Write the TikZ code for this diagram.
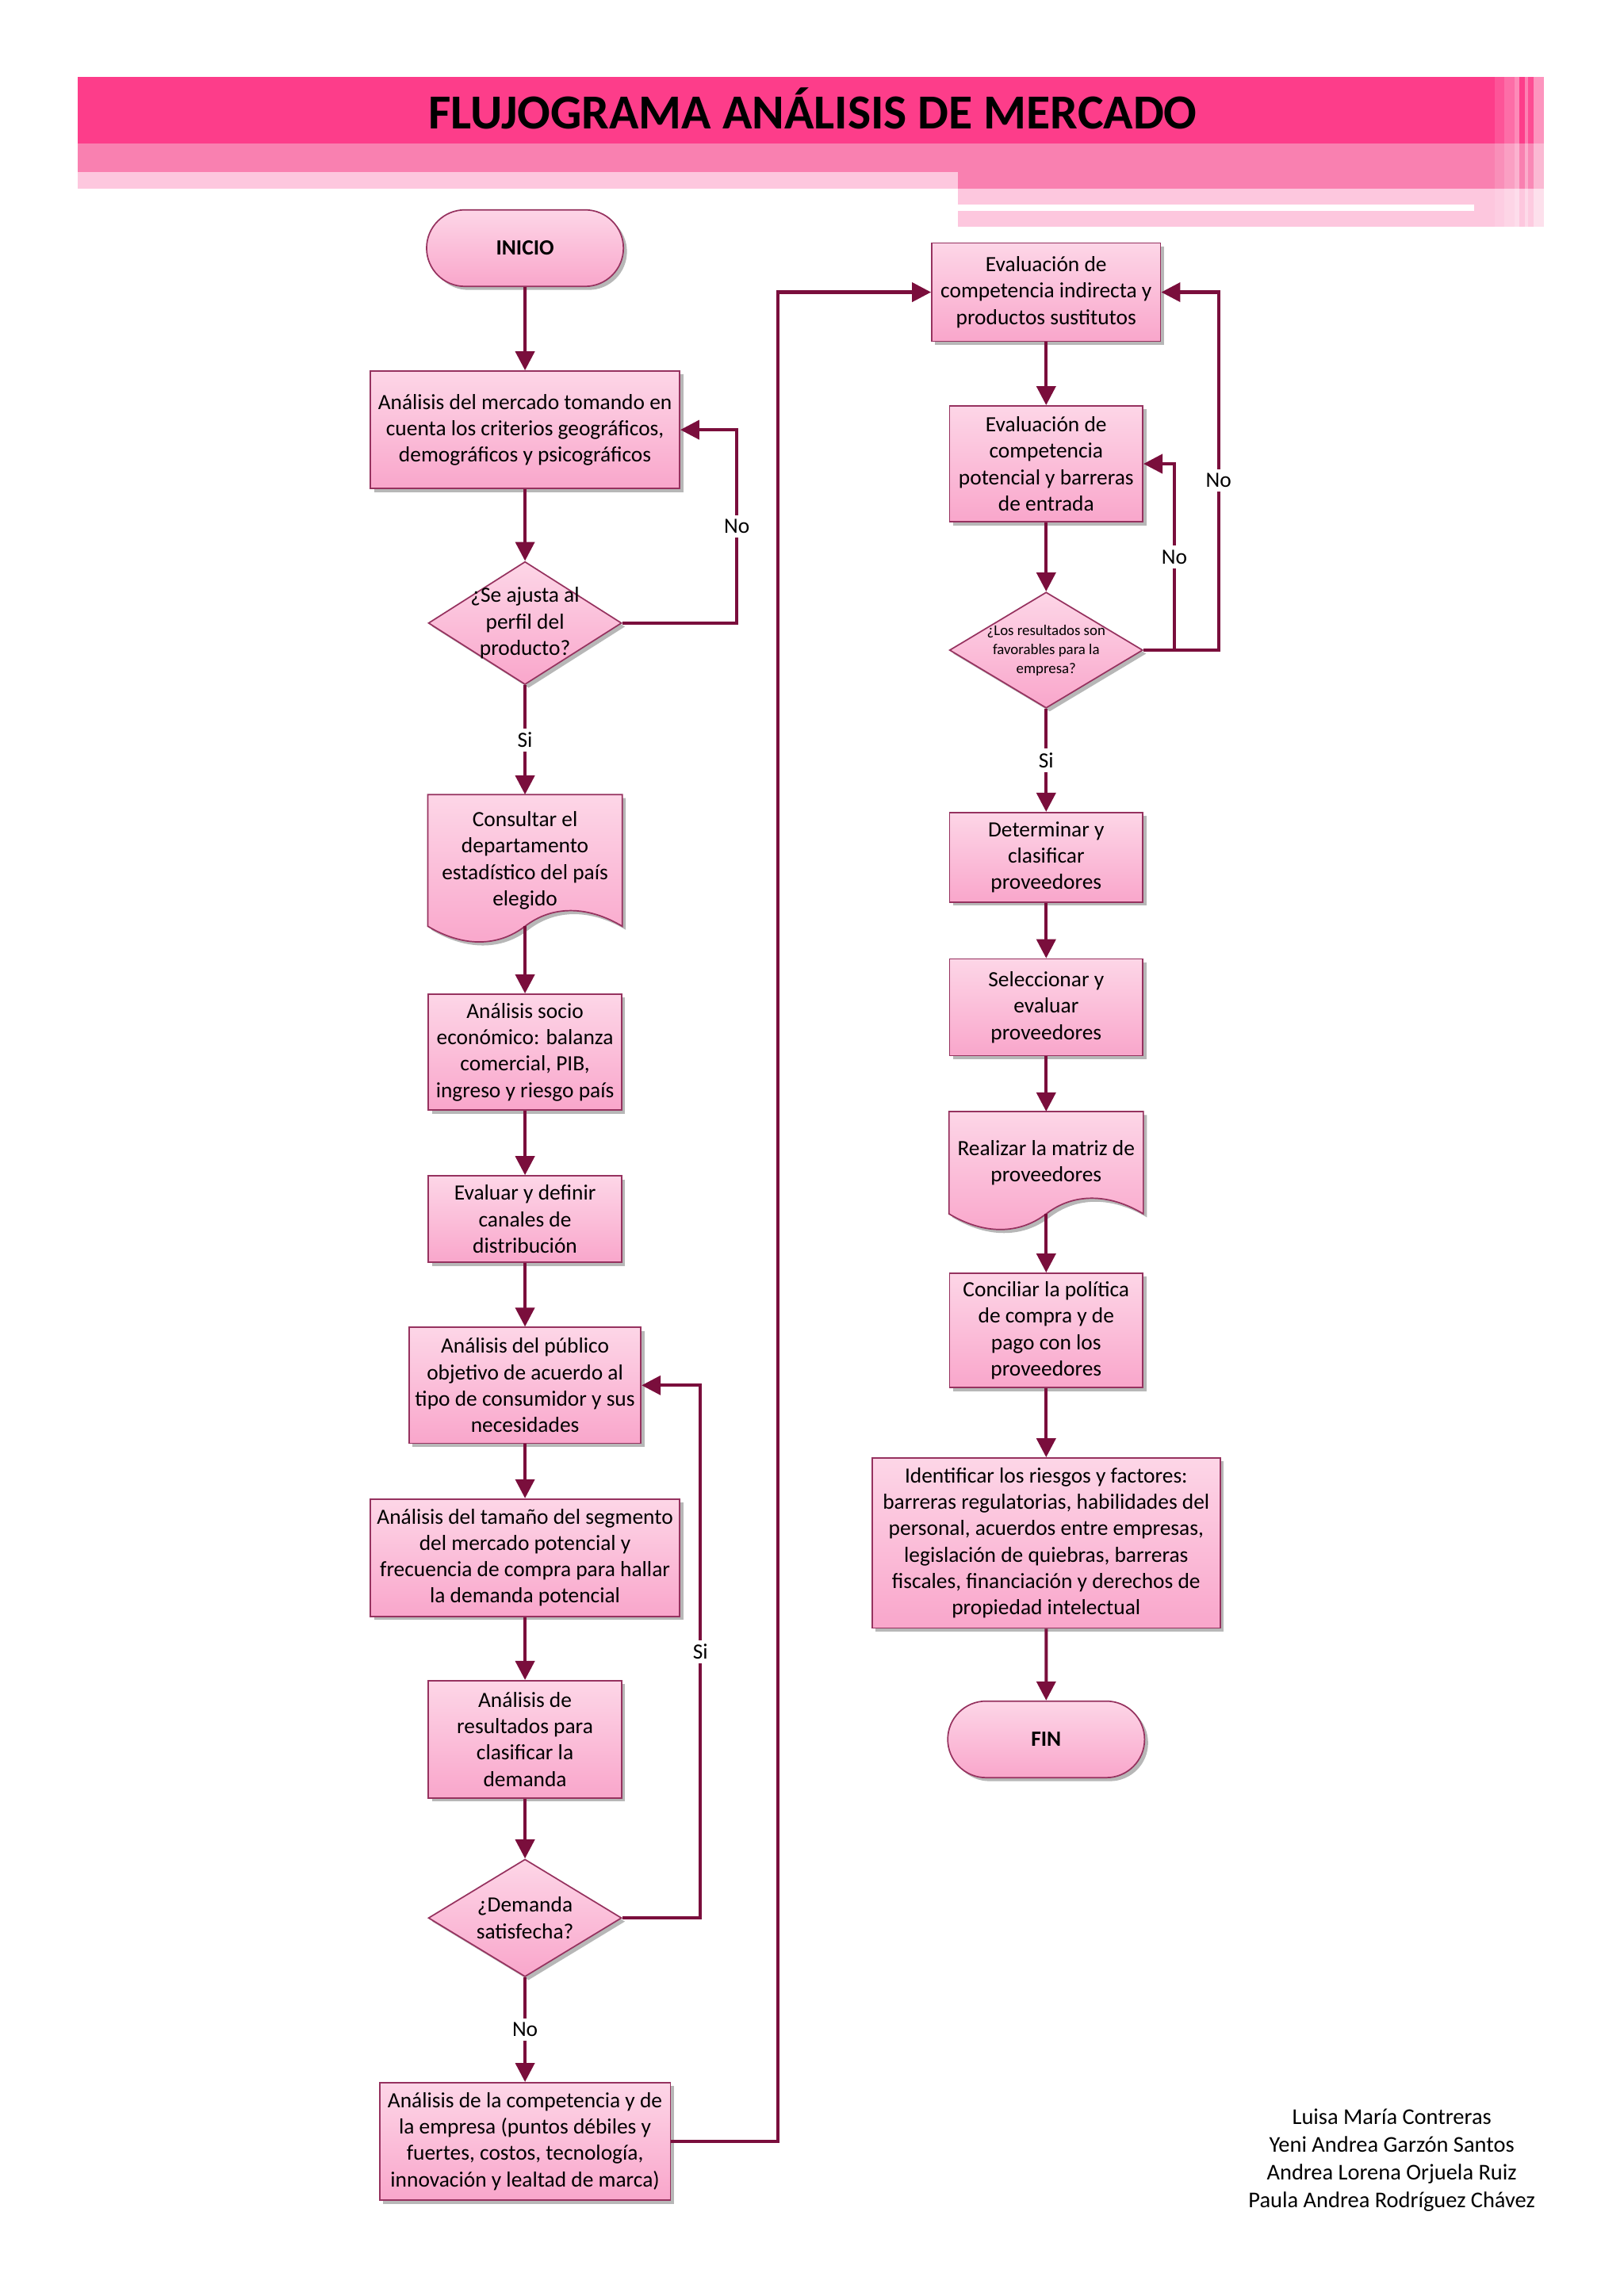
\documentclass[tikz,border=0pt]{standalone}
\usepackage{fontspec}
\setmainfont{Carlito}
\usepackage{tikz}
\usetikzlibrary{shapes.geometric, shapes.misc, arrows.meta, shadows, backgrounds}
\definecolor{rosafuerte}{RGB}{253, 61, 138}
\definecolor{rosamedio}{RGB}{249, 128, 176}
\definecolor{rosaclaro}{RGB}{253, 199, 222}
\definecolor{rosaarriba}{RGB}{253, 214, 231}
\definecolor{rosaabajo}{RGB}{249, 166, 203}
\definecolor{borde}{RGB}{150, 50, 95}
\definecolor{flecha}{RGB}{122, 14, 60}
\newcommand{\letra}{\fontsize{8}{9.7}\selectfont}
\newcommand{\letrita}{\fontsize{5.5}{7}\selectfont}
\tikzset{>={Triangle[width=7pt,length=7pt]}}
\tikzset{
  sombra/.style={drop shadow={shadow xshift=1.3pt, shadow yshift=-1.3pt, fill=black!40, opacity=0.7}},
  relleno/.style={draw=borde, line width=0.5pt, top color=rosaarriba, bottom color=rosaabajo},
  caja/.style={rectangle, relleno, sombra, align=center, font=\letra, inner sep=1.5pt, minimum width=2.5cm},
  terminal/.style={rounded rectangle, relleno, sombra, font=\letra\bfseries, minimum width=2.78cm, minimum height=0.99cm},
  decision/.style={diamond, relleno, sombra, inner sep=0pt, minimum width=2.5cm},
  documento/.style={rectangle, align=center, font=\letra, inner sep=1.5pt, minimum width=2.5cm},
  flujo/.style={->, draw=flecha, line width=1.2pt},
  lbl/.style={fill=white, inner sep=1.5pt, font=\letra},
}

\begin{document}
\begin{tikzpicture}
\useasboundingbox (0,0) rectangle (21,29.7);

\fill[rosaclaro] (1.005,27.26) rectangle (12.387,27.475);
\fill[rosamedio] (1.005,27.475) rectangle (19.965,27.844);
\fill[rosamedio] (12.387,27.26) rectangle (19.965,27.475);
\fill[rosaclaro] (12.387,26.767) rectangle (19.965,27.26);
\fill[white] (12.387,26.972) rectangle (19.06,27.054);
\fill[rosafuerte] (1.005,27.844) rectangle (19.33,28.705);
\fill[rosafuerte] (19.33,27.844) rectangle (19.965,28.705);
\foreach \a/\b/\o in {19.33/19.45/0.12, 19.45/19.59/0.25, 19.59/19.65/0.4, 19.65/19.72/0.0, 19.72/19.76/0.35, 19.76/19.83/0.08, 19.83/19.965/0.45}
  \fill[white, opacity=\o] (\a,26.767) rectangle (\b,28.705);
\node[anchor=base, font=\fontsize{18}{22}\selectfont\bfseries] (titulo) at (10.51,28.03) {FLUJOGRAMA ANÁLISIS DE MERCADO};

\node[terminal] (ini) at (6.79,26.49) {INICIO};
\node[caja, minimum width=4cm, minimum height=1.52cm] (merc) at (6.79,24.14) {Análisis del mercado tomando en\\cuenta los criterios geográficos,\\demográficos y psicográficos};
\node[decision, minimum height=1.59cm, label={[font=\letra, align=center]center:{¿Se ajusta al\\perfil del\\producto?}}] (aj) at (6.79,21.64) {};
\node[documento, minimum height=1.69cm] (cons) at (6.79,18.57) {Consultar el\\departamento\\estadístico del país\\elegido};
\node[caja, minimum height=1.5cm] (soc) at (6.79,16.09) {Análisis socio\\económico: balanza\\comercial, PIB,\\ingreso y riesgo país};
\node[caja, minimum height=1.12cm] (canal) at (6.79,13.93) {Evaluar y definir\\canales de\\distribución};
\node[caja, minimum width=3cm, minimum height=1.5cm] (pub) at (6.79,11.78) {Análisis del público\\objetivo de acuerdo al\\tipo de consumidor y sus\\necesidades};
\node[caja, minimum width=4cm, minimum height=1.52cm] (tam) at (6.79,9.55) {Análisis del tamaño del segmento\\del mercado potencial y\\frecuencia de compra para hallar\\la demanda potencial};
\node[caja, minimum height=1.52cm] (res) at (6.79,7.20) {Análisis de\\resultados para\\clasificar la\\demanda};
\node[decision, minimum height=1.52cm, label={[font=\letra, align=center]center:{¿Demanda\\satisfecha?}}] (dem) at (6.79,4.89) {};
\node[caja, minimum width=3.76cm, minimum height=1.52cm] (comp) at (6.79,2.00) {Análisis de la competencia y de\\la empresa (puntos débiles y\\fuertes, costos, tecnología,\\innovación y lealtad de marca)};

\node[caja, minimum width=2.96cm, minimum height=1.27cm] (ind) at (13.53,25.92) {Evaluación de\\competencia indirecta y\\productos sustitutos};
\node[caja, minimum height=1.5cm] (pot) at (13.53,23.70) {Evaluación de\\competencia\\potencial y barreras\\de entrada};
\node[decision, minimum height=1.5cm, label={[font=\letrita, align=center]center:{¿Los resultados son\\favorables para la\\empresa?}}] (fav) at (13.53,21.29) {};
\node[caja, minimum height=1.16cm] (det) at (13.53,18.61) {Determinar y\\clasificar\\proveedores};
\node[caja, minimum height=1.25cm] (sel) at (13.53,16.67) {Seleccionar y\\evaluar\\proveedores};
\node[documento, minimum height=1.31cm] (matr) at (13.53,14.66) {Realizar la matriz de\\proveedores};
\node[caja, minimum height=1.48cm] (conc) at (13.53,12.49) {Conciliar la política\\de compra y de\\pago con los\\proveedores};
\node[caja, minimum width=4.5cm, minimum height=2.2cm] (ries) at (13.53,9.74) {Identificar los riesgos y factores:\\barreras regulatorias, habilidades del\\personal, acuerdos entre empresas,\\legislación de quiebras, barreras\\fiscales, financiación y derechos de\\propiedad intelectual};
\node[terminal] (fin) at (13.53,7.20) {FIN};

\begin{scope}[on background layer]
\foreach \d in {cons,matr}{
  \fill[black!40, opacity=0.7, transform canvas={xshift=1.3pt,yshift=-1.3pt}] (\d.north west) -- (\d.south west) .. controls +(0.45,-0.27) and +(-0.35,-0.27) .. (\d.south) .. controls +(0.35,0.27) and +(-0.45,0.27) .. (\d.south east) -- (\d.north east) -- cycle;
  \draw[relleno] (\d.north west) -- (\d.south west) .. controls +(0.45,-0.27) and +(-0.35,-0.27) .. (\d.south) .. controls +(0.35,0.27) and +(-0.45,0.27) .. (\d.south east) -- (\d.north east) -- cycle;
}
\end{scope}

\draw[flujo] (ini) -- (merc);
\draw[flujo] (merc) -- (aj);
\draw[flujo] (aj.east) -- ++(1.48,0) |- node[lbl, pos=0.25] {No} (merc.east);
\draw[flujo] (aj) -- node[lbl] {Si} (cons);
\draw[flujo] (cons) -- (soc);
\draw[flujo] (soc) -- (canal);
\draw[flujo] (canal) -- (pub);
\draw[flujo] (pub) -- (tam);
\draw[flujo] (tam) -- (res);
\draw[flujo] (res) -- (dem);
\draw[flujo] (dem.east) -- ++(1.01,0) |- node[lbl, pos=0.25] {Si} (pub.east);
\draw[flujo] (dem) -- node[lbl] {No} (comp);
\draw[flujo] (comp.east) -- ++(1.38,0) |- (ind.west);
\draw[flujo] (ind) -- (pot);
\draw[flujo] (pot) -- (fav);
\draw[flujo] (fav.east) -- ++(0.40,0) |- node[lbl, pos=0.25] {No} (pot.east);
\draw[flujo] (fav.east) -- ++(0.97,0) |- node[lbl, pos=0.237] {No} (ind.east);
\draw[flujo] (fav) -- node[lbl] {Si} (det);
\draw[flujo] (det) -- (sel);
\draw[flujo] (sel) -- (matr);
\draw[flujo] (matr) -- (conc);
\draw[flujo] (conc) -- (ries);
\draw[flujo] (ries) -- (fin);

\node[align=center, font=\fontsize{8.3}{10.2}\selectfont] (autoras) at (18.00,1.76) {Luisa María Contreras\\Yeni Andrea Garzón Santos\\Andrea Lorena Orjuela Ruiz\\Paula Andrea Rodríguez Chávez};
\end{tikzpicture}
\end{document}
